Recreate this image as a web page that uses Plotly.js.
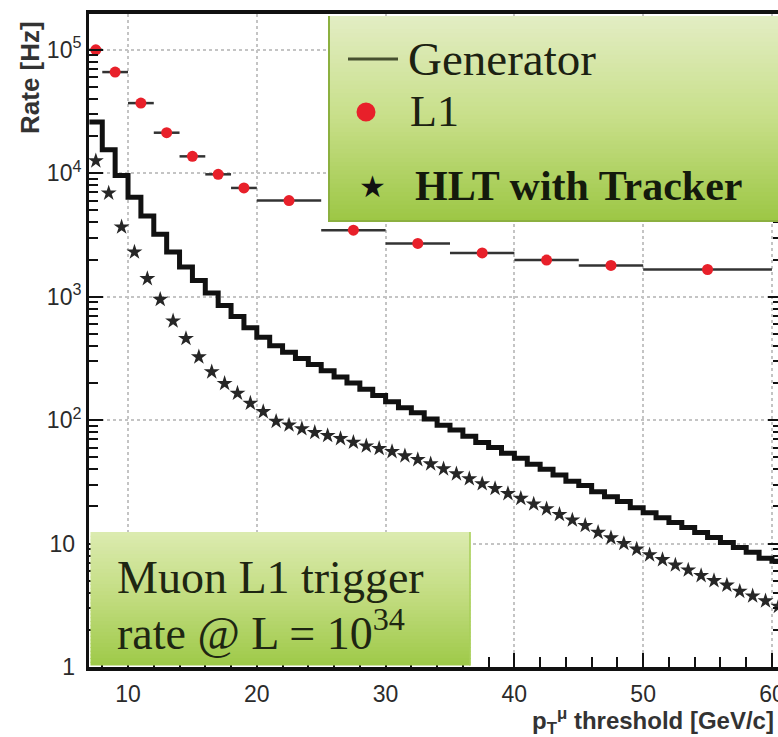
<!DOCTYPE html>
<html><head><meta charset="utf-8">
<script src="https://cdn.plot.ly/plotly-3.0.1.min.js"></script>
<style>html,body{margin:0;padding:0;overflow:hidden;background:#fff;width:778px;height:737px}#chart{width:782px;height:737px}</style>
</head><body><div id="chart"></div>
<script>
// ---- data ----
const genBinLow = [7,8,9,10,11,12,13,14,15,16,17,18,19,20,21,22,23,24,25,26,27,28,29,30,31,32,33,34,35,36,37,38,39,40,41,42,43,44,45,46,47,48,49,50,51,52,53,54,55,56,57,58,59,60];
const genRate = [26000,15500,9600,6400,4500,3200,2300,1740,1350,1070,850,690,560,470,400,355,316,282,251,224,200,178,158,141,126,115,102,91,83,74,66,60,54,49,44,40,36,32,29.5,26.3,24,21.9,19.5,17.8,16.2,14.8,13.5,12.3,11.2,10.2,9.3,8.5,7.6,7.2];
const hltPt = [7.5,8.5,9.5,10.5,11.5,12.5,13.5,14.5,15.5,16.5,17.5,18.5,19.5,20.5,21.5,22.5,23.5,24.5,25.5,26.5,27.5,28.5,29.5,30.5,31.5,32.5,33.5,34.5,35.5,36.5,37.5,38.5,39.5,40.5,41.5,42.5,43.5,44.5,45.5,46.5,47.5,48.5,49.5,50.5,51.5,52.5,53.5,54.5,55.5,56.5,57.5,58.5,59.5,60.5];
const hltRate = [12600,6900,3670,2300,1400,950,635,458,325,246,198,165,137,117,97.7,91.2,85.1,79.4,75.0,70.8,66.1,61.7,58.9,55.6,51.3,47.9,44.2,40.3,36.7,33.5,30.5,27.9,25.4,23.2,20.9,19.1,17.2,15.5,14.0,12.3,11.1,10.0,9.0,8.1,7.4,6.7,6.1,5.5,5.0,4.6,4.1,3.76,3.43,3.1];
const l1Pt = [7.5,9,11,13,15,17,19,22.5,27.5,32.5,37.5,42.5,47.5,55];
const l1HalfWidth = [0.5,1,1,1,1,1,1,2.5,2.5,2.5,2.5,2.5,2.5,5];
const l1Rate = [100000,66000,37000,21300,13700,9800,7600,6000,3460,2700,2260,1980,1790,1660];
const xTickVals = [10,20,30,40,50,60];
const yTickVals = [1,10,100,1000,10000,100000];
const yTickText = ['1\u00a0','10\u00a0','10<sup>2</sup>','10<sup>3</sup>','10<sup>4</sup>','10<sup>5</sup>'];
const legendLabels = ['Generator','L1','HLT with Tracker'];
const boxLines = ['Muon L1 trigger','rate @ L = 10<sup>34</sup>'];
const xTitle = 'p<sub>T</sub><sup>μ</sup> threshold [GeV/c]';
const yTitle = 'Rate [Hz]';

// ---- geometry helpers (pixel -> paper) ----
const W=782,H=737,ML=89,MR=0,MT=14,MB=70;
const PW=W-ML-MR, PH=H-MT-MB;
const px=x=>(x-ML)/PW, py=y=>(H-MB-y)/PH;

function hex2rgb(h){h=h.replace('#','');return [0,2,4].map(i=>parseInt(h.substr(i,2),16));}
function mix(stops,t){
  for(let i=0;i<stops.length-1;i++){
    const [t0,c0]=stops[i],[t1,c1]=stops[i+1];
    if(t<=t1){const f=(t-t0)/(t1-t0);const a=hex2rgb(c0),b=hex2rgb(c1);
      return 'rgb('+a.map((v,k)=>Math.round(v+(b[k]-v)*f)).join(',')+')';}
  }
  return stops[stops.length-1][1];
}
function gradBox(x0,x1,y0,y1,stops,n){
  const out=[];
  for(let i=0;i<n;i++){
    const ya=y0+(y1-y0)*i/n, yb=y0+(y1-y0)*(i+1)/n+(i<n-1?1:0);
    out.push({type:'rect',xref:'paper',yref:'paper',layer:'above',
      x0:px(x0),x1:px(x1),y0:py(ya),y1:py(yb),
      fillcolor:mix(stops,(i+0.5)/n),line:{width:0}});
  }
  return out;
}

const legStops=[[0,'#e3edc4'],[0.5,'#c7df88'],[1,'#9cc644']];
const boxStops=[[0,'#dcebb0'],[0.5,'#c1dc7e'],[1,'#9ec948']];

const shapes = [].concat(
  gradBox(328,782,16,222,legStops,48),
  [{type:'line',xref:'paper',yref:'paper',layer:'above',x0:px(329),x1:px(329),y0:py(16),y1:py(222),line:{color:'#8cb040',width:2}},
   {type:'line',xref:'paper',yref:'paper',layer:'above',x0:px(328),x1:px(782),y0:py(221),y1:py(221),line:{color:'#8cb040',width:2}}],
  gradBox(90.5,470.5,532,665.5,boxStops,36),
  [{type:'line',xref:'paper',yref:'paper',layer:'above',x0:px(470),x1:px(470),y0:py(532),y1:py(665.5),line:{color:'#a9cf5a',width:1.5}},
   // legend symbols
   {type:'line',xref:'paper',yref:'paper',layer:'above',x0:px(348),x1:px(398),y0:py(59),y1:py(59),line:{color:'#46502f',width:3}},
   {type:'circle',xref:'paper',yref:'paper',layer:'above',x0:px(356.5),x1:px(375.5),y0:py(102.5),y1:py(121.5),fillcolor:'#e8202a',line:{width:0}}]
);

const serif='Liberation Serif, Times New Roman, serif';
const sans='Liberation Sans, Arial, sans-serif';
const ann=(text,x,y,opt)=>Object.assign({text:text,xref:'paper',yref:'paper',x:px(x),y:py(y),showarrow:false,xanchor:'left',yanchor:'middle'},opt||{});

const annotations=[
  ann(legendLabels[0],406,59,{font:{family:serif,size:47,color:'#1c2212'}}),
  ann(legendLabels[1],408,112,{font:{family:serif,size:44,color:'#1c2212'}}),
  ann('<b>'+legendLabels[2]+'</b>',413,186,{font:{family:serif,size:42,color:'#141a0c'}}),
  ann('★',372,186,{xanchor:'center',font:{family:'DejaVu Sans',size:30,color:'#111'}}),
  ann(boxLines[0],115,577,{font:{family:serif,size:46,color:'#1e2612'}}),
  ann(boxLines[1],115,630,{font:{family:serif,size:46,color:'#1e2612'}}),
  ann('<b>'+xTitle+'</b>',776,721,{xanchor:'right',font:{family:sans,size:24,color:'#333'}}),
  ann('<b>'+yTitle+'</b>',30,78,{xanchor:'center',textangle:-90,font:{family:sans,size:26,color:'#333'}})
];

const traces=[
  {x:genBinLow.concat([genBinLow[genBinLow.length-1]+1]),
   y:genRate.concat([genRate[genRate.length-1]]),
   mode:'lines',line:{shape:'hv',color:'#111',width:5},name:legendLabels[0]},
  {x:hltPt,y:hltRate,mode:'markers',marker:{symbol:'star',size:12,color:'#262626'},name:legendLabels[2]},
  {x:l1Pt,y:l1Rate,mode:'markers',marker:{color:'#e8202a',size:11},
   error_x:{type:'data',array:l1HalfWidth,color:'#333',thickness:2.5,width:0},name:legendLabels[1]}
];

const tickfont={family:sans,size:23,color:'#2b2b2b'};
const layout={
  width:W,height:H,margin:{l:ML,r:MR,t:MT,b:MB},
  paper_bgcolor:'#fff',plot_bgcolor:'#fff',showlegend:false,
  xaxis:{range:[6.97,60.78],tickmode:'array',tickvals:xTickVals,ticks:'inside',ticklen:14,tickwidth:2,tickcolor:'#111',
    showline:true,linewidth:4,linecolor:'#111',mirror:true,showgrid:true,gridcolor:'#c4c4c4',griddash:'dot',gridwidth:2,
    zeroline:false,tickfont:tickfont,ticklabelstandoff:3,ticklabeloverflow:'allow',
    minor:{ticks:'inside',ticklen:10,tickwidth:2,tickcolor:'#111',dtick:2,tick0:0,showgrid:false}},
  yaxis:{type:'log',range:[0,5.29],tickmode:'array',tickvals:yTickVals,ticktext:yTickText,ticks:'inside',ticklen:14,tickwidth:2,tickcolor:'#111',
    showline:true,linewidth:3,linecolor:'#111',mirror:'ticks',showgrid:true,gridcolor:'#c4c4c4',griddash:'dot',gridwidth:2,
    zeroline:false,tickfont:tickfont,ticklabelstandoff:0,
    minor:{ticks:'inside',ticklen:9,tickwidth:2,tickcolor:'#111',dtick:'D1',showgrid:false}},
  shapes:shapes,annotations:annotations
};
Plotly.newPlot('chart',traces,layout,{staticPlot:true,displayModeBar:false});
</script></body></html>
